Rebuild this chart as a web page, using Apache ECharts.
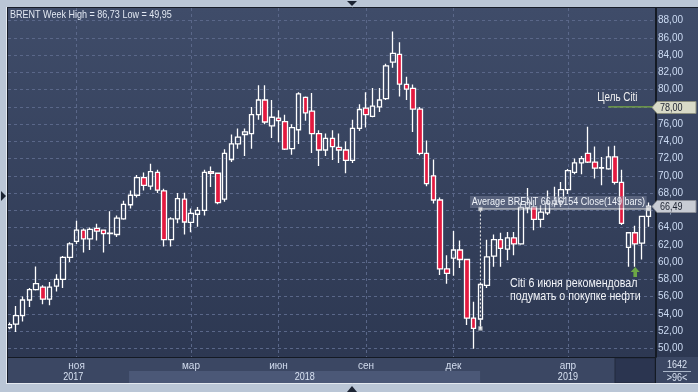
<!DOCTYPE html>
<html><head><meta charset="utf-8">
<script src="https://cdn.jsdelivr.net/npm/echarts@6/dist/echarts.min.js"></script>
<style>html,body{margin:0;padding:0;background:#bac6d6;}#c{width:698px;height:392px;}</style>
</head><body><div id="c"></div><script>
// weekly bars, index 0 = week of 28 Aug 2017, index 95 = week of 24 Jun 2019
const open  = [52.4,52.8,53.8,55.6,56.8,57.1,55.7,57.2,58.0,60.55, 62.4,63.7,62.7,63.9,63.7,63.3,63.2,65.0,66.65,67.75, 69.8,68.8,70.4,68.25,62.6,65.0,67.3,64.6,65.55,66.0, 70.5,70.3,67.3,71.9,73.7,74.8,74.9,77.1,78.8,75.8, 76.7,76.3,73.15,75.35,79.1,77.5,74.9,73.0,74.35,73.3, 73.0,71.8,75.5,77.85,76.9,78.0,78.95,83.2,84.1,80.6, 80.15,77.75,72.6,70.0,67.2,59.2,60.45,61.4,60.3,53.5, 53.4,57.3,60.7,62.6,61.5,62.8,62.1,66.3,66.4,64.95, 65.7,66.8,67.0,68.4,70.4,71.5,72.6,71.6,70.9,70.8, 72.2,69.25,61.7,63.4,62.2,65.3];
const high  = [53.0,54.9,56.0,57.0,59.5,57.3,57.7,58.6,60.7,62.3, 64.8,63.9,64.0,64.45,63.7,65.9,65.4,67.1,68.3,70.1, 70.4,71.4,70.7,68.5,65.2,68.0,68.05,66.2,66.4,70.7, 71.1,70.3,73.1,74.8,75.5,75.5,78.0,80.5,80.5,78.8, 77.6,77.1,76.0,79.7,79.2,79.6,75.3,74.9,75.3,74.9, 74.0,76.5,78.3,79.7,80.2,80.2,83.0,86.73,85.5,81.5, 80.6,78.0,74.1,71.9,67.5,60.8,63.6,62.5,60.3,55.4, 57.6,62.6,63.2,63.4,63.5,63.5,66.9,68.6,67.2,66.6, 68.3,68.75,69.3,70.8,72.0,72.3,75.7,73.4,72.2,73.4, 73.5,70.7,63.5,64.2,65.3,66.9];
const low   = [52.2,51.9,53.1,54.8,56.7,55.1,55.0,56.6,57.0,60.0, 62.1,61.1,61.4,62.5,61.1,62.1,62.9,64.9,66.2,67.5, 68.3,68.4,68.0,61.8,61.8,64.5,63.2,63.45,64.1,65.4, 68.7,66.7,67.0,71.6,73.15,72.3,73.15,76.5,76.0,74.4, 73.9,73.0,72.45,73.7,76.4,72.65,71.15,72.3,71.85,71.5, 70.3,71.5,75.2,75.6,76.8,77.4,78.8,82.55,79.2,78.8, 75.1,72.4,68.8,66.8,58.5,57.5,58.4,59.3,52.7,49.95, 52.3,57.0,59.45,59.45,60.2,60.8,62.0,65.65,63.7,64.0, 65.45,66.35,66.4,67.9,70.2,70.2,71.5,69.7,68.9,70.7, 69.0,64.3,59.45,59.45,60.3,64.1];
const close = [52.75,53.8,55.6,56.8,57.5,55.7,57.1,58.0,60.55,62.1, 63.7,62.7,63.8,63.6,63.3,63.35,65.1,66.7,67.75,69.8, 68.9,70.5,68.35,62.6,65.0,67.35,64.65,65.65,66.0,70.4, 70.3,66.9,72.6,73.7,74.5,75.1,77.1,78.8,76.25,76.8, 76.4,73.1,75.6,79.5,77.3,74.9,73.0,74.35,73.4,73.0, 71.8,75.5,77.7,77.1,78.1,78.8,82.75,84.2,80.65,80.05, 77.75,72.6,69.1,67.2,59.2,58.7,61.4,60.3,53.5,52.3, 57.4,60.6,62.6,61.6,62.8,62.1,66.35,66.9,64.95,65.8, 66.8,67.1,68.4,70.6,71.5,72.0,71.6,70.9,70.95,72.2, 69.25,64.5,63.4,62.1,65.3,66.49];

const monthTicks = [10,27,40,53,66,83];
const monthNames = ['ноя','мар','июн','сен','дек','апр'];
const yearNames = ['2017','2018','2019'];
const yearCenters = [9.5,43.9,83];
const yearBand = [17.8,69.95];
const yTicks = [50,52,54,56,58,60,62,64,66,68,70,72,74,76,78,80,82,84,86,88];

const titleText = 'BRENT Week High = 86,73 Low = 49,95';
const avgValue = 66.16154, avgFrom = 70, avgTo = 95, avgAnchorLow = 52.3;
const avgText = 'Average BRENT 66,16154 Close(149 bars)';
const targetValue = 78, targetFrom = 89, targetText = 'Цель Citi';
const lastPrice = 66.49;
const arrowIndex = 93, arrowPrice = 58.85;
const noteLines = ['Citi 6 июня рекомендовал','подумать о покупке нефти'];
const noteAt = [74.4, 56.75];
const barsInfo = ['1642','>96<'];

const X_MIN = -0.19, X_MAX = 96.09, Y_MIN = 48.99, Y_MAX = 89.47;
const FONT = "'Liberation Sans',Arial,sans-serif";
const SX = 0.82; // narrow look
const fmt = v => v.toFixed(2).replace('.', ',');

const candles = open.map((o, i) => [i, o, close[i], low[i], high[i]]);

const chart = echarts.init(document.getElementById('c'), null, {renderer:'canvas'});
const option = {
  animation:false,
  backgroundColor:'#bac6d6',
  grid:{left:8, right:42, top:8, bottom:35, show:false},
  xAxis:{type:'value', min:X_MIN, max:X_MAX,
    axisLine:{show:true, onZero:false, lineStyle:{color:'#141a24', width:1}},
    axisTick:{show:false, customValues:monthTicks},
    axisLabel:{customValues:monthTicks, formatter:v => monthNames[monthTicks.indexOf(v)] || '',
      color:'#d2dcee', fontSize:10, fontFamily:FONT, margin:4},
    splitLine:{show:true, lineStyle:{color:'#5a6789', width:1, type:[3,3]}}},
  yAxis:{type:'value', position:'right', min:Y_MIN, max:Y_MAX,
    axisLine:{show:true, onZero:false, lineStyle:{color:'#141a24', width:1}},
    axisTick:{show:false, customValues:yTicks},
    axisLabel:{customValues:yTicks, formatter:v => fmt(v), color:'#cddcf4', fontSize:10, fontFamily:FONT, margin:2, align:'left'},
    splitLine:{show:true, lineStyle:{color:'#5a6789', width:1, type:[3,3]}}},
  series:[
    {type:'candlestick', data:candles, encode:{x:0, y:[1,2,3,4]}, barWidth:5,
      itemStyle:{color:'rgba(0,0,0,0)', color0:'#e3193f', borderColor:'#ffffff', borderColor0:'#ffffff', borderColorDoji:'#ffffff', borderWidth:1.3}, z:2},
    {type:'line', data:[[avgFrom,avgAnchorLow],[avgFrom,avgValue]], symbol:'none', lineStyle:{color:'#f2f2f2', width:1, type:[2,2]}, z:4, silent:true},
    {type:'line', data:[[avgFrom,avgValue],[avgTo,avgValue]], symbol:'none', lineStyle:{color:'#f2f2f2', width:1}, z:4, silent:true},
    {type:'scatter', data:[[avgFrom,avgValue],[avgFrom,avgAnchorLow],[avgTo,avgValue]], symbol:'rect', symbolSize:4,
      itemStyle:{color:'#f4f4f4', borderColor:'#9aa0aa', borderWidth:0.5}, z:5, silent:true},
    {type:'line', data:[[targetFrom,targetValue],[X_MAX,targetValue]], symbol:'none', lineStyle:{color:'#7aab42', width:1.3}, z:4, silent:true},
    {type:'scatter', data:[[arrowIndex,arrowPrice]], symbol:'path://M5,0 L10,5 L7,5 L7,10 L3,10 L3,5 L0,5 Z', symbolSize:[9,10],
      itemStyle:{color:'#7cc242'}, z:5, silent:true}
  ]
};
chart.setOption(option);

const px = (x, y) => chart.convertToPixel({gridIndex:0}, [x, y]);
const g = [];
function txt(x, y, text, size, fill, align, extra) {
  const style = Object.assign({text:text, fill:fill, font:size+'px '+FONT, textAlign:align||'left', textVerticalAlign:'middle'}, extra||{});
  g.push({type:'text', z:21, x:x, y:y, scaleX:SX, scaleY:1, style:style});
}
// backgrounds
g.push({type:'rect', z:-10, shape:{x:8, y:8, width:690, height:349},
  style:{fill:new echarts.graphic.LinearGradient(0,0,0,1,[{offset:0,color:'#3f4c69'},{offset:1,color:'#2d3852'}])}});
g.push({type:'rect', z:-10, shape:{x:8, y:357, width:690, height:26}, style:{fill:'#3b4763'}});
const b0 = px(yearBand[0], Y_MIN)[0], b1 = px(yearBand[1], Y_MIN)[0];
g.push({type:'rect', z:-9, shape:{x:b0, y:371, width:b1-b0, height:12}, style:{fill:'#4b5877'}});
g.push({type:'rect', z:-9, shape:{x:615, y:358, width:40, height:25}, style:{fill:'#2b3550', stroke:'#222a3c', lineWidth:1}});
// frame lines
g.push({type:'line', z:20, shape:{x1:7.5, y1:7, x2:7.5, y2:384}, style:{stroke:'#161c28', lineWidth:1}});
g.push({type:'line', z:20, shape:{x1:7, y1:7.5, x2:698, y2:7.5}, style:{stroke:'#161c28', lineWidth:1}});
g.push({type:'line', z:20, shape:{x1:655.5, y1:8, x2:655.5, y2:384}, style:{stroke:'#141a24', lineWidth:1}});
g.push({type:'line', z:20, shape:{x1:7, y1:383.5, x2:698, y2:383.5}, style:{stroke:'#e4e9f0', lineWidth:1}});
g.push({type:'line', z:20, shape:{x1:6.5, y1:7, x2:6.5, y2:384}, style:{stroke:'#e4e9f0', lineWidth:1}});
// triangles
g.push({type:'polygon', z:20, shape:{points:[[347,1],[357,1],[352,6]]}, style:{fill:'#1c2433'}});
g.push({type:'polygon', z:20, shape:{points:[[347,392],[357,392],[352,386]]}, style:{fill:'#1c2433'}});
g.push({type:'polygon', z:20, shape:{points:[[1,191],[1,201],[6,196]]}, style:{fill:'#1c2433'}});
// title
txt(10, 14.5, titleText, 11, '#e2e8f2');
// year labels
yearNames.forEach((t, i) => txt(px(yearCenters[i], Y_MIN)[0], 377, t, 11, '#d8e2f2', 'center'));
// bars info
txt(677, 365, barsInfo[0], 11, '#d8e2f2', 'center');
g.push({type:'line', z:20, shape:{x1:663, y1:371.5, x2:691, y2:371.5}, style:{stroke:'#aab6c8', lineWidth:1}});
txt(677, 377.5, barsInfo[1], 11, '#d8e2f2', 'center');
// average label
const aEnd = px(avgTo, avgValue);
txt(aEnd[0]-2, aEnd[1]-7, avgText, 11, '#eef2f8', 'right', {backgroundColor:'rgba(130,140,165,0.45)', padding:[1,2,0,2]});
// target label
const tp = px(targetFrom, targetValue);
txt(tp[0]-11, tp[1]-9, targetText, 12, '#f0f0f0');
// note
const np = px(noteAt[0], noteAt[1]);
txt(np[0], np[1], noteLines.join('\n'), 13, '#f2f4f8', 'left', {lineHeight:13});
// price tags
function tag(val, fill, stroke) {
  const y = Math.round(px(X_MAX, val)[1]) + 0.5;
  g.push({type:'polygon', z:22, shape:{points:[[652,y],[657,y-6],[696,y-6],[696,y+6],[657,y+6]]}, style:{fill:fill, stroke:stroke, lineWidth:1}});
  g.push({type:'text', z:23, x:660, y:y, scaleX:SX, style:{text:fmt(val), fill:'#1c2230', font:'11px '+FONT, textVerticalAlign:'middle'}});
}
tag(targetValue, '#d9dbc8', '#8c9080');
tag(lastPrice, '#c8ccd4', '#8a8e98');
chart.setOption({graphic:g});
</script></body></html>
